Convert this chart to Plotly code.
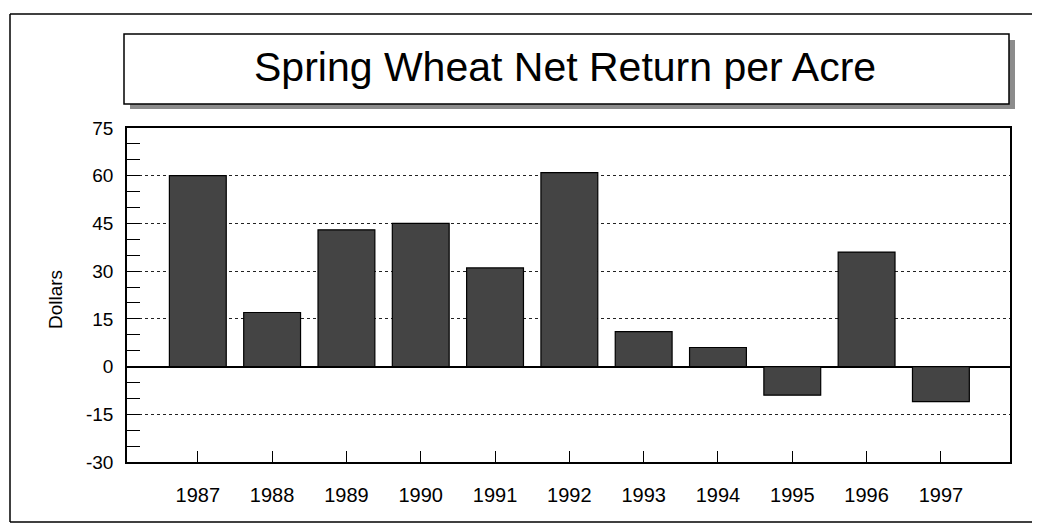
import plotly.graph_objects as go

years = ["1987", "1988", "1989", "1990", "1991", "1992", "1993", "1994", "1995", "1996", "1997"]
net_return = [60, 17, 43, 45, 31, 61, 11, 6, -9, 36, -11]
y_ticks = [-30, -15, 0, 15, 30, 45, 60, 75]
y_tick_labels = ["-30", "-15", "0", "15", "30", "45", "60", "75"]

# page body adds an 8px margin, so the figure is drawn 8px smaller and shifted
OFF = 8
W, H = 1040 - OFF, 527 - OFF
plot_left, plot_right, plot_top, plot_bottom = 127, 1010, 128, 462
L, T = plot_left - OFF, plot_top - OFF
R = W - (plot_right - OFF)
B = H - (plot_bottom - OFF)
pw, ph = W - L - R, H - T - B


def px_x(x):
    return (x - OFF - L) / pw


def px_y(y):
    return (H - B - (y - OFF)) / ph


fig = go.Figure(
    go.Bar(
        x=years,
        y=net_return,
        marker=dict(color="#444444", line=dict(color="black", width=1.2)),
        showlegend=False,
    )
)

frame = dict(type="line", xref="paper", yref="paper",
             line=dict(color="black", width=1.5), layer="below")
shapes = [
    # outer frame: left, top and bottom edges (right edge is off the page)
    dict(frame, x0=px_x(10), x1=px_x(10), y0=px_y(522), y1=px_y(14)),
    dict(frame, x0=px_x(10), x1=px_x(1040), y0=px_y(14), y1=px_y(14)),
    dict(frame, x0=px_x(10), x1=px_x(1040), y0=px_y(522), y1=px_y(522)),
    # title box shadow
    dict(type="rect", xref="paper", yref="paper",
         x0=px_x(130), x1=px_x(1015), y0=px_y(109), y1=px_y(40),
         fillcolor="#8c8c8c", line=dict(width=0), layer="below"),
    # title box
    dict(type="rect", xref="paper", yref="paper",
         x0=px_x(124), x1=px_x(1009), y0=px_y(104), y1=px_y(34),
         fillcolor="white", line=dict(color="black", width=1.5), layer="below"),
]

fig.update_layout(
    width=W,
    height=H,
    margin=dict(l=L, r=R, t=T, b=B),
    paper_bgcolor="white",
    plot_bgcolor="white",
    bargap=0.235,
    font=dict(family="Liberation Sans, Arial, sans-serif", color="black"),
    shapes=shapes,
    annotations=[
        dict(text="Spring Wheat Net Return per Acre", xref="paper", yref="paper",
             x=px_x(565), y=px_y(67), xanchor="center", yanchor="middle",
             showarrow=False, font=dict(size=41, color="black")),
        dict(text="Dollars", xref="paper", yref="paper",
             x=px_x(55), y=px_y(300), xanchor="center", yanchor="middle",
             showarrow=False, textangle=-90,
             font=dict(size=19, color="black")),
    ],
)

fig.update_xaxes(
    range=[-0.953, 10.93],
    showline=True, linecolor="black", linewidth=1.5, mirror=True,
    ticks="inside", ticklen=11, tickcolor="black",
    ticklabelstandoff=14,
    tickfont=dict(size=20),
    showgrid=False,
)

fig.update_yaxes(
    range=[-30, 75],
    tickvals=y_ticks,
    ticktext=y_tick_labels,
    showline=True, linecolor="black", linewidth=1.5, mirror=True,
    ticks="inside", ticklen=13, tickcolor="black",
    minor=dict(dtick=5, tick0=0, ticks="inside", ticklen=13, tickcolor="black", showgrid=False),
    ticklabelstandoff=8,
    tickfont=dict(size=19),
    showgrid=True, gridcolor="#222222", griddash="dot", gridwidth=1,
    zeroline=True, zerolinecolor="black", zerolinewidth=2,
)

fig.write_html("out.html")
